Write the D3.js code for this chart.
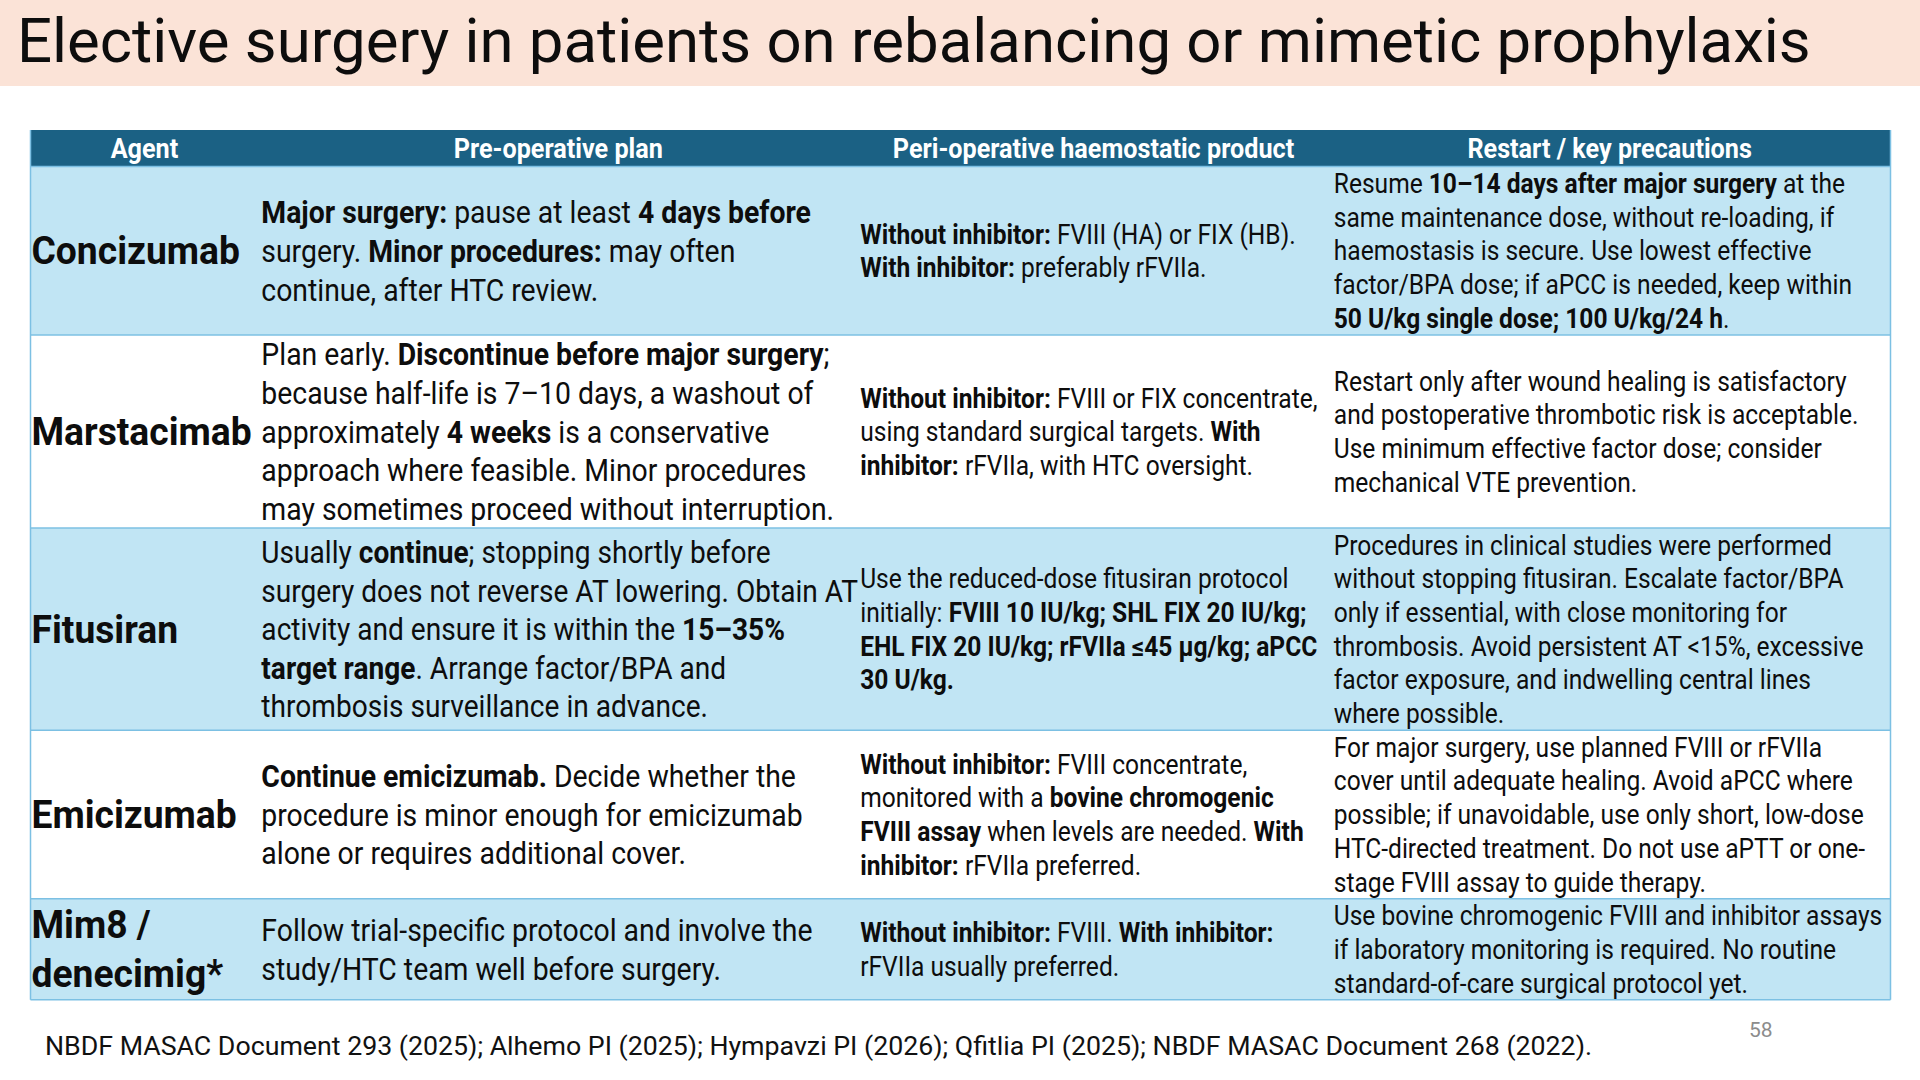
<!DOCTYPE html>
<html>
<head>
  <title>Elective surgery</title>
  <meta charset="utf8">
  <style type="text/css">
    body { margin: 0; background: #fff; }
    svg { display: block; }
    text { font-family: Roboto, "Noto Sans", sans-serif; }
  </style>
</head>
<body>

<script src="https://d3js.org/d3.v7.min.js"></script>

<script type="text/javascript">

var title = 'Elective surgery in patients on rebalancing or mimetic prophylaxis'

var headers = ['Agent', 'Pre-operative plan', 'Peri-operative haemostatic product', 'Restart / key precautions']

// one entry per row, lines as broken on the slide, **bold** runs marked
var agents = [
  ['Concizumab'],
  ['Marstacimab'],
  ['Fitusiran'],
  ['Emicizumab'],
  ['Mim8 /', 'denecimig*']
]

var preop = [
  ['**Major surgery:** pause at least **4 days before**', 'surgery. **Minor procedures:** may often', 'continue, after HTC review.'],
  ['Plan early. **Discontinue before major surgery**;', 'because half-life is 7–10 days, a washout of', 'approximately **4 weeks** is a conservative', 'approach where feasible. Minor procedures', 'may sometimes proceed without interruption.'],
  ['Usually **continue**; stopping shortly before', 'surgery does not reverse AT lowering. Obtain AT', 'activity and ensure it is within the **15–35%**', '**target range**. Arrange factor/BPA and', 'thrombosis surveillance in advance.'],
  ['**Continue emicizumab.** Decide whether the', 'procedure is minor enough for emicizumab', 'alone or requires additional cover.'],
  ['Follow trial-specific protocol and involve the', 'study/HTC team well before surgery.']
]

var peri = [
  ['**Without inhibitor:** FVIII (HA) or FIX (HB).', '**With inhibitor:** preferably rFVIIa.'],
  ['**Without inhibitor:** FVIII or FIX concentrate,', 'using standard surgical targets. **With**', '**inhibitor:** rFVIIa, with HTC oversight.'],
  ['Use the reduced-dose fitusiran protocol', 'initially: **FVIII 10 IU/kg; SHL FIX 20 IU/kg;**', '**EHL FIX 20 IU/kg; rFVIIa ≤45 µg/kg; aPCC**', '**30 U/kg.**'],
  ['**Without inhibitor:** FVIII concentrate,', 'monitored with a **bovine chromogenic**', '**FVIII assay** when levels are needed. **With**', '**inhibitor:** rFVIIa preferred.'],
  ['**Without inhibitor:** FVIII. **With inhibitor:**', 'rFVIIa usually preferred.']
]

var restart = [
  ['Resume **10–14 days after major surgery** at the', 'same maintenance dose, without re-loading, if', 'haemostasis is secure. Use lowest effective', 'factor/BPA dose; if aPCC is needed, keep within', '**50 U/kg single dose; 100 U/kg/24 h**.'],
  ['Restart only after wound healing is satisfactory', 'and postoperative thrombotic risk is acceptable.', 'Use minimum effective factor dose; consider', 'mechanical VTE prevention.'],
  ['Procedures in clinical studies were performed', 'without stopping fitusiran. Escalate factor/BPA', 'only if essential, with close monitoring for', 'thrombosis. Avoid persistent AT <15%, excessive', 'factor exposure, and indwelling central lines', 'where possible.'],
  ['For major surgery, use planned FVIII or rFVIIa', 'cover until adequate healing. Avoid aPCC where', 'possible; if unavoidable, use only short, low-dose', 'HTC-directed treatment. Do not use aPTT or one-', 'stage FVIII assay to guide therapy.'],
  ['Use bovine chromogenic FVIII and inhibitor assays', 'if laboratory monitoring is required. No routine', 'standard-of-care surgical protocol yet.']
]

var footnote = 'NBDF MASAC Document 293 (2025); Alhemo PI (2025); Hympavzi PI (2026); Qfitlia PI (2025); NBDF MASAC Document 268 (2022).'
var pageNumber = '58'

var W = 1920, H = 1080

var columns = [
  { data: agents,  size: 38, lh: 49,   bold: true, sx: 0.98, pad: 1 },
  { data: preop,   size: 31, lh: 38.6, sx: 0.915, pad: 3 },
  { data: peri,    size: 27, lh: 33.6, sx: 0.91, pad: 2 },
  { data: restart, size: 27, lh: 33.7, sx: 0.91, pad: 5 }
]

var tableLeft = 30.5, tableRight = 1890.5
var headTop = 130, headH = 36.5

// column edges
var x = d3.scaleLinear().domain([0, 1]).range([tableLeft, tableRight])
var edges = [0, 0.1225, 0.445, 0.698, 1].map(x)

// row heights from the tallest cell
var rowH = agents.map(function(d, r) {
  return d3.max(columns, function(c) { return c.data[r].length * c.lh })
})
var rowTop = [headTop + headH]
rowH.forEach(function(h, i) { rowTop.push(rowTop[i] + h) })

var svg = d3.select('body').append('svg')
  .attr('width', W)
  .attr('height', H)

// title band
svg.append('rect')
  .attr('width', W)
  .attr('height', 86)
  .attr('fill', '#fbe3d7')

var t = svg.append('text')
  .attr('x', 17)
  .attr('y', 62)
  .attr('font-size', 62)
  .attr('fill', '#0d0d0d')
  .text(title)
var tw = t.node().getComputedTextLength()
t.attr('font-size', 62 * 1794 / tw)

// rows
svg.append('g').selectAll('rect')
  .data(rowH)
  .join('rect')
  .attr('x', tableLeft)
  .attr('y', function(d, i) { return rowTop[i] })
  .attr('width', tableRight - tableLeft)
  .attr('height', function(d) { return d })
  .attr('fill', function(d, i) { return i % 2 ? '#ffffff' : '#c1e5f4' })

// header
svg.append('rect')
  .attr('x', tableLeft)
  .attr('y', headTop)
  .attr('width', tableRight - tableLeft)
  .attr('height', headH)
  .attr('fill', '#1b6184')

svg.append('g').selectAll('text')
  .data(headers)
  .join('text')
  .attr('transform', function(d, i) {
    return 'translate(' + [(edges[i] + edges[i + 1]) / 2, headTop + headH / 2 + 9.5] + ') scale(0.9,1)'
  })
  .attr('text-anchor', 'middle')
  .attr('font-size', 28)
  .attr('font-weight', 'bold')
  .attr('fill', '#fff')
  .text(function(d) { return d })

// row lines and border
var lines = svg.append('g')
  .attr('stroke', '#7cc0e3')
  .attr('stroke-width', 1.5)

lines.selectAll('line.h')
  .data(rowTop)
  .join('line')
  .attr('class', 'h')
  .attr('x1', tableLeft)
  .attr('x2', tableRight)
  .attr('y1', function(d) { return d })
  .attr('y2', function(d) { return d })

lines.selectAll('line.v')
  .data([tableLeft, tableRight])
  .join('line')
  .attr('class', 'v')
  .attr('x1', function(d) { return d })
  .attr('x2', function(d) { return d })
  .attr('y1', headTop)
  .attr('y2', rowTop[rowTop.length - 1])

function runs(s) {
  return s.split('**').map(function(p, i) { return { text: p, bold: i % 2 === 1 } })
    .filter(function(p) { return p.text.length })
}

// cells
columns.forEach(function(col, c) {
  col.data.forEach(function(cell, r) {
    var mid = rowTop[r] + rowH[r] / 2
    var g = svg.append('g')
    var tx = g.selectAll('text')
      .data(cell)
      .join('text')
      .attr('x', 0)
      .attr('y', function(d, i) { return mid + (i - (cell.length - 1) / 2) * col.lh })
      .attr('dy', '0.36em')
      .attr('font-size', col.size)
      .attr('fill', '#0d0d0d')
      .attr('font-weight', col.bold ? 'bold' : null)

    tx.selectAll('tspan')
      .data(function(d) { return runs(d) })
      .join('tspan')
      .attr('font-weight', function(d) { return d.bold ? 'bold' : null })
      .text(function(d) { return d.text })

    var widest = d3.max(tx.nodes(), function(n) { return n.getComputedTextLength() })
    var room = edges[c + 1] - edges[c] - col.pad
    var s = Math.min(col.sx, room / widest)
    g.attr('transform', 'translate(' + (edges[c] + col.pad) + ',0) scale(' + s + ',1)')
  })
})

// footnote and slide number
svg.append('text')
  .attr('x', 45)
  .attr('y', 1055)
  .attr('font-size', 26)
  .attr('fill', '#111')
  .attr('textLength', 1547)
  .attr('lengthAdjust', 'spacingAndGlyphs')
  .text(footnote)

svg.append('text')
  .attr('x', 1749)
  .attr('y', 1037)
  .attr('font-size', 21)
  .attr('fill', '#8c8c8c')
  .text(pageNumber)

</script>

</body>
</html>
